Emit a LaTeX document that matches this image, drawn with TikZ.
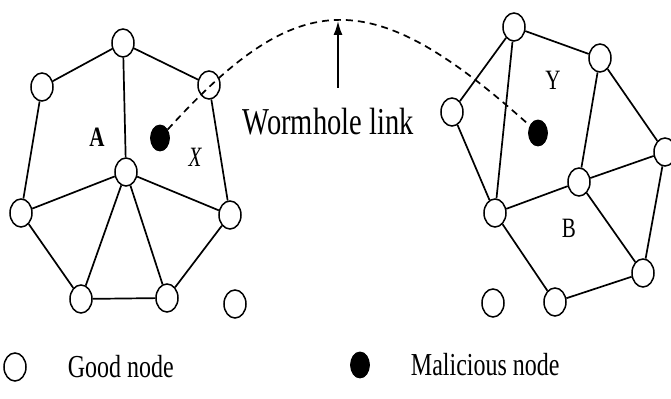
\documentclass[tikz,border=0pt]{standalone}
\usepackage{fontspec}
\setmainfont[FakeStretch=0.75]{Liberation Serif}
\usepackage{tikz}
\usetikzlibrary{positioning, arrows.meta, shapes.geometric}

\begin{document}
\begin{tikzpicture}[x=0.5pt, y=-0.5pt,
    good/.style={draw=black, fill=white, ellipse, line width=0.75pt,
      minimum width=11pt, minimum height=14pt, inner sep=0pt},
    bad/.style={draw=black, fill=black, ellipse,
      minimum width=9.5pt, minimum height=13pt, inner sep=0pt},
    link/.style={line width=0.85pt, black}]
  \useasboundingbox (0,0) rectangle (671,399);

  % left cluster
  \node[good] (lt)  at (123,43)  {};
  \node[good] (lul) at (42,87)   {};
  \node[good] (lur) at (209,85)  {};
  \node[good] (lc)  at (126,172) {};
  \node[good] (ll)  at (21,213)  {};
  \node[good] (lr)  at (230,215) {};
  \node[good] (lbl) at (81,299)  {};
  \node[good] (lbr) at (167,298) {};
  \node[good] (liso) at (235,304) {};
  \node[bad]  (mx)  at (160,138) {};
  \node[font=\fontsize{14}{16}\selectfont\bfseries] (la) at (97,137) {A};
  \node[font=\fontsize{14}{16}\selectfont\itshape] (lx) at (195,157) {X};

  \draw[link] (lt) -- (lul);
  \draw[link] (lt) -- (lur);
  \draw[link] (lt) -- (lc);
  \draw[link] (lul) -- (ll);
  \draw[link] (lur) -- (lr);
  \draw[link] (lc) -- (ll);
  \draw[link] (lc) -- (lr);
  \draw[link] (lc) -- (lbl);
  \draw[link] (lc) -- (lbr);
  \draw[link] (ll) -- (lbl);
  \draw[link] (lr) -- (lbr);
  \draw[link] (lbl) -- (lbr);

  % right cluster
  \node[good] (rt)  at (514,27)  {};
  \node[good] (rur) at (600,58)  {};
  \node[good] (rl)  at (452,112) {};
  \node[good] (rfr) at (665,152) {};
  \node[good] (rc)  at (579,182) {};
  \node[good] (rll) at (495,213) {};
  \node[good] (rlr) at (643,273) {};
  \node[good] (rb)  at (555,302) {};
  \node[good] (riso) at (493,303) {};
  \node[bad]  (my)  at (538,133) {};
  \node[font=\fontsize{14}{16}\selectfont] (ry) at (553,80)  {Y};
  \node[font=\fontsize{14}{16}\selectfont] (rbl) at (569,228) {B};

  \draw[link] (rt) -- (rur);
  \draw[link] (rt) -- (rl);
  \draw[link] (rt) -- (rll);
  \draw[link] (rl) -- (rll);
  \draw[link] (rur) -- (rc);
  \draw[link] (rur) -- (rfr);
  \draw[link] (rll) -- (rc);
  \draw[link] (rc) -- (rfr);
  \draw[link] (rc) -- (rlr);
  \draw[link] (rfr) -- (rlr);
  \draw[link] (rll) -- (rb);
  \draw[link] (rb) -- (rlr);

  % wormhole
  \coordinate (peak) at (338,21);
  \coordinate (tail) at (338,88);
  \draw[line width=0.85pt, dash pattern=on 3.5pt off 2.5pt]
      (mx) .. controls (300,-16) and (372,-16) .. (my);
  \draw[line width=0.8pt, -{Latex[length=7pt, width=4.5pt]}] (tail) -- (peak);
  \node[font=\fontsize{19}{21}\selectfont] (wl) at (328,122) {Wormhole link};

  % legend
  \node[good] (kgood) at (15,367) {};
  \node[font=\fontsize{16}{18}\selectfont, right=17pt of kgood] (tgood) {Good node};
  \node[bad] (kbad) at (360,365) {};
  \node[font=\fontsize{16}{18}\selectfont, right=17pt of kbad] (tbad) {Malicious node};
\end{tikzpicture}
\end{document}
